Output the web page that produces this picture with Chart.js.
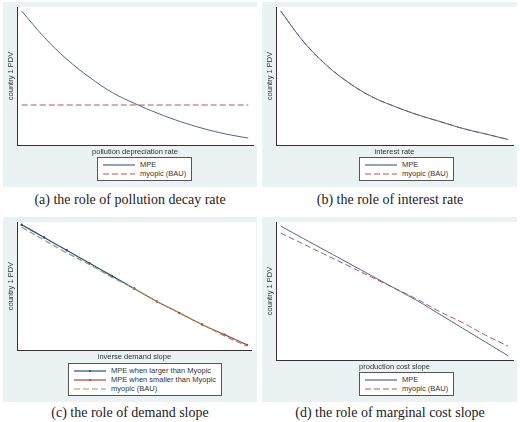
<!DOCTYPE html>
<html><head><meta charset="utf-8">
<script src="https://cdn.jsdelivr.net/npm/chart.js@4"></script>
<style>
body{margin:0;background:#fff;width:520px;height:422px;position:relative;font-family:"Liberation Sans",Arial,sans-serif;}
.panel{position:absolute;background:#eaf2f3;}
.panel canvas{position:absolute;left:0;top:0;}
.leg{position:absolute;background:#fff;border:1px solid #555;font-size:7.5px;color:#333;padding:2px 5px;line-height:9px;}
.leg div{display:flex;align-items:center;white-space:nowrap;}
.leg svg{margin-right:5px;}
.cap{position:absolute;font-family:"Liberation Serif","DejaVu Serif",serif;font-size:14px;color:#222;text-align:center;width:260px;}
</style></head><body>
<div class="panel" id="pa" style="left:3px;top:2px;width:254px;height:185px"></div>
<div class="panel" id="pb" style="left:262px;top:2px;width:255px;height:185px"></div>
<div class="panel" id="pc" style="left:3px;top:217px;width:254px;height:185px"></div>
<div class="panel" id="pd" style="left:262px;top:217px;width:255px;height:185px"></div>
<div class="cap" style="left:0;top:192px">(a) the role of pollution decay rate</div>
<div class="cap" style="left:260px;top:192px">(b) the role of interest rate</div>
<div class="cap" style="left:0;top:405px">(c) the role of demand slope</div>
<div class="cap" style="left:260px;top:405px">(d) the role of marginal cost slope</div>
<script>
const xs = [0.02,0.116,0.212,0.308,0.404,0.5,0.596,0.692,0.788,0.884,0.98];
// (a)
const aMPE = [97,78,62,49,38,30,23,17,12,8,5];
const aMyopic = [29,29,29,29,29,29,29,29,29,29,29];
// (b)
const bMPE = [97,75,58,45,35,28,22,17,12,8,4];
const bMyopic = [97,75,58,45,35,28,22,17,12,8,4];
// (c)
const cMPEup = [98,88,78,68,58,48,null,null,null,null,null];
const cMPEdown = [null,null,null,null,null,48,38,29,20,12,4];
const cMyopic = [96,86,76,67,57,48,38,29,20,11,3];
// (d)
const dMPE = [97,88,79,70,61,52,43,33,23,13,3];
const dMyopic = [92,84,76,68,60,52,44,35,27,18,10];

const NAVY='#4d6590', MAROON='#b5565a', OLIVE='#8f9d66', RED='#b04040';
const pts = a => xs.map((x,i)=>({x, y:a[i]}));
const whiteArea = {id:'wa',beforeDraw(c){const a=c.chartArea,ctx=c.ctx;ctx.save();ctx.fillStyle='#fff';ctx.fillRect(a.left,a.top,a.right-a.left+4,a.bottom-a.top);ctx.restore();}};

function make(id, xtitle, datasets, ch){
  const p=document.getElementById(id);
  const cv=document.createElement('canvas');
  cv.style.width=p.style.width; cv.style.height=ch+'px';
  p.appendChild(cv);
  new Chart(cv,{type:'line',data:{datasets},plugins:[whiteArea],
    options:{responsive:false,animation:false,maintainAspectRatio:false,
      layout:{padding:{left:3,top:5,right:4,bottom:0}},
      plugins:{legend:{display:false},tooltip:{enabled:false}},
      elements:{point:{radius:0},line:{tension:0.4,borderWidth:1}},
      scales:{
        x:{type:'linear',min:0,max:1,grid:{display:false,drawTicks:false},border:{color:'#333',width:1},ticks:{display:false},
           title:{display:true,text:xtitle,font:{size:7.5,family:'Liberation Sans'},color:'#333',padding:{top:2,bottom:0}}},
        y:{min:0,max:100,grid:{display:false,drawTicks:false},border:{color:'#333',width:1},ticks:{display:false},
           title:{display:true,text:'country 1 PDV',font:{size:7.5,family:'Liberation Sans'},color:'#333',padding:{top:0,bottom:2}}}
      }}});
}
function legend(id, items, left, top){
  const p=document.getElementById(id);
  const d=document.createElement('div'); d.className='leg';
  d.style.left=left+'px'; d.style.top=top+'px';
  d.innerHTML=items.map(it=>`<div><svg width="32" height="6"><line x1="0" y1="3" x2="32" y2="3" stroke="${it[1]}" stroke-width="1.2" ${it[2]?'stroke-dasharray="6 3"':''}/>${it[3]?'<circle cx="16" cy="3" r="1.1" fill="'+it[1]+'"/>':''}</svg>${it[0]}</div>`).join('');
  p.appendChild(d);
}
make('pa','pollution depreciation rate',[
  {data:pts(aMPE),borderColor:NAVY},
  {data:pts(aMyopic),borderColor:MAROON,borderDash:[6,3],borderWidth:1.2}],154);
make('pb','interest rate',[
  {data:pts(bMPE),borderColor:NAVY},
  {data:pts(bMyopic),borderColor:MAROON,borderDash:[6,3],borderWidth:1}],154);
make('pc','inverse demand slope',[
  {data:pts(cMyopic),borderColor:OLIVE,borderDash:[6,3],borderWidth:1.2},
  {data:pts(cMPEup),borderColor:'#2d4a7a',pointRadius:0.6,pointBackgroundColor:'#2d4a7a',borderWidth:1.2},
  {data:pts(cMPEdown),borderColor:RED,pointRadius:0.6,pointBackgroundColor:RED,borderWidth:1.2}],144);
make('pd','production cost slope',[
  {data:pts(dMPE),borderColor:NAVY},
  {data:pts(dMyopic),borderColor:MAROON,borderDash:[6,3],borderWidth:1}],154);
legend('pa',[['MPE',NAVY,false],['myopic (BAU)',MAROON,true]],94,155);
legend('pb',[['MPE',NAVY,false],['myopic (BAU)',MAROON,true]],97,155);
legend('pc',[['MPE when larger than Myopic','#2d4a7a',false,true],['MPE when smaller than Myopic',RED,false,true],['myopic (BAU)',OLIVE,true]],65,146);
legend('pd',[['MPE',NAVY,false],['myopic (BAU)',MAROON,true]],97,155);
</script></body></html>
